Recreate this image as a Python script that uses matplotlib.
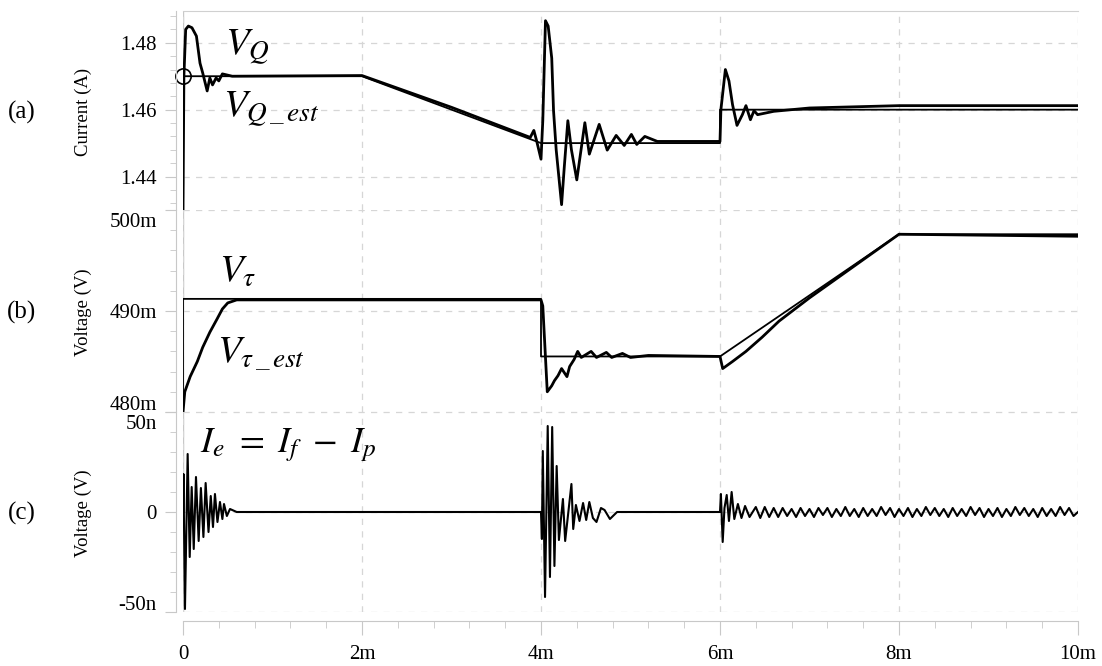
import matplotlib.pyplot as plt
from matplotlib.ticker import MultipleLocator
from matplotlib.transforms import ScaledTranslation

plt.rcParams['font.family'] = ['Liberation Serif', 'DejaVu Serif']
plt.rcParams['mathtext.fontset'] = 'stix'

# ---- data (time in ms) ----
# (a) current, reference step/ramp and measured response
t_a_ref = [0.0, 0.0, 2.0, 4.0, 6.0, 6.0, 10.0]
i_a_ref = [1.430, 1.470, 1.470, 1.450, 1.450, 1.460, 1.460]

t_a = [0.0, 0.01, 0.03, 0.06, 0.10, 0.15, 0.19, 0.22, 0.27, 0.30, 0.33, 0.37,
       0.40, 0.44, 0.55, 2.0, 3.0, 3.88, 3.92, 3.95, 4.00, 4.02, 4.05, 4.08,
       4.12, 4.14, 4.17, 4.23, 4.26, 4.30, 4.34, 4.40, 4.49, 4.54, 4.65, 4.74,
       4.84, 4.93, 5.01, 5.07, 5.16, 5.30, 6.0, 6.01, 6.06, 6.10, 6.14, 6.19,
       6.25, 6.29, 6.34, 6.38, 6.42, 6.60, 7.0, 8.0, 10.0]
i_a = [1.430, 1.470, 1.484, 1.485, 1.4845, 1.482, 1.4739, 1.471, 1.4656, 1.4695,
       1.4674, 1.4695, 1.4686, 1.4707, 1.4700, 1.4702, 1.4607, 1.4517, 1.4538,
       1.4508, 1.4452, 1.4567, 1.4866, 1.4850, 1.4754, 1.4597, 1.4479, 1.4316,
       1.4428, 1.4567, 1.4480, 1.4390, 1.4561, 1.4467, 1.4556, 1.4479, 1.4523,
       1.4493, 1.4526, 1.4496, 1.4520, 1.4505, 1.4505, 1.4600, 1.4720, 1.4686,
       1.4615, 1.4553, 1.4585, 1.4612, 1.4570, 1.4597, 1.4585, 1.4595, 1.4605,
       1.4612, 1.4612]

# (b) voltage in mV, reference and estimate
t_b_ref = [0.0, 0.0, 4.0, 4.0, 6.0, 8.0, 10.0]
v_b_ref = [480.0, 491.2, 491.2, 485.5, 485.5, 497.6, 497.6]

t_b = [0.0, 0.02, 0.08, 0.16, 0.22, 0.30, 0.38, 0.44, 0.50, 0.60, 4.0, 4.02,
       4.07, 4.12, 4.15, 4.19, 4.23, 4.29, 4.32, 4.37, 4.41, 4.45, 4.56, 4.62,
       4.73, 4.79, 4.91, 5.0, 5.2, 6.0, 6.03, 6.14, 6.29, 6.47, 6.66, 7.0, 8.0,
       10.0]
v_b = [480.0, 482.0, 483.5, 485.0, 486.4, 487.9, 489.2, 490.2, 490.8, 491.1,
       491.1, 490.5, 482.0, 482.6, 483.1, 483.6, 484.3, 483.5, 484.5, 485.2,
       486.0, 485.4, 486.0, 485.4, 485.9, 485.4, 485.8, 485.4, 485.6, 485.5,
       484.3, 485.0, 486.0, 487.4, 489.0, 491.3, 497.6, 497.4]

# (c) error signal in nV: transients at 0, 4m and 6m
t_c = [0.0, 0.005, 0.022, 0.052, 0.075, 0.097, 0.12, 0.145, 0.175, 0.20, 0.228,
       0.253, 0.285, 0.31, 0.335, 0.357, 0.385, 0.413, 0.44, 0.458, 0.49, 0.525,
       0.6, 3.98, 4.00, 4.01, 4.02, 4.045, 4.075, 4.10, 4.125, 4.15, 4.175,
       4.20, 4.245, 4.27, 4.34, 4.36, 4.39, 4.43, 4.47, 4.505, 4.54, 4.58,
       4.62, 4.67, 4.71, 4.77, 4.85, 6.0, 6.01, 6.03, 6.05, 6.075, 6.10, 6.13,
       6.16, 6.20, 6.24, 6.28, 6.33]
e_c = [0.0, 19.0, -48.5, 29.0, -22.5, 12.5, -18.5, 17.5, -14.5, 12.0, -12.5,
       14.5, -10.0, 8.0, -7.5, 9.0, -5.0, 5.0, -3.5, 4.0, -2.0, 1.5, 0.0, 0.0,
       0.0, -13.5, 30.5, -42.5, 43.0, -32.5, 42.5, -27.0, 23.0, -14.0, 6.5,
       -14.5, 14.0, -8.5, 3.5, -4.5, 4.5, -4.0, 5.0, -3.0, -5.0, 2.0, 1.0,
       -3.5, 0.0, 0.0, 9.0, -15.0, 2.0, 8.5, -4.5, 10.0, -3.5, 4.0, -3.0,
       3.0, -2.5]
# ripple that stays after the 6m step
t_c_tail = [6.40, 6.45, 6.50, 6.55, 6.60, 6.65, 6.70, 6.75, 6.80, 6.85,
            6.90, 6.95, 7.00, 7.05, 7.10, 7.15, 7.20, 7.25, 7.30, 7.35,
            7.40, 7.45, 7.50, 7.55, 7.60, 7.65, 7.70, 7.75, 7.80, 7.85,
            7.90, 7.95, 8.00, 8.05, 8.10, 8.15, 8.20, 8.25, 8.30, 8.35,
            8.40, 8.45, 8.50, 8.55, 8.60, 8.65, 8.70, 8.75, 8.80, 8.85,
            8.90, 8.95, 9.00, 9.05, 9.10, 9.15, 9.20, 9.25, 9.30, 9.35,
            9.40, 9.45, 9.50, 9.55, 9.60, 9.65, 9.70, 9.75, 9.80, 9.85,
            9.90, 9.95, 10.00]
e_c_tail = [2.5, -3.0, 2.5, -2.5, 2.0, -2.5, 2.0, -2.0, 1.5, -2.5,
            2.0, -2.0, 1.5, -2.5, 2.0, -1.5, 2.0, -2.5, 1.5, -2.0,
            2.5, -2.0, 1.5, -2.5, 2.0, -2.0, 1.5, -2.0, 2.5, -1.5,
            2.0, -2.5, 1.5, -2.0, 2.0, -2.5, 1.5, -2.0, 2.5, -1.5,
            2.0, -2.0, 1.5, -2.5, 2.0, -2.0, 1.5, -2.0, 2.5, -1.5,
            2.0, -2.5, 1.5, -2.0, 2.0, -2.5, 1.5, -2.0, 2.5, -1.5,
            2.0, -2.0, 1.5, -2.5, 2.0, -2.0, 1.5, -2.0, 2.5, -1.5,
            2.0, -2.0, 0.0]

# ---- figure layout (pixel boxes of the reference) ----
W, H = 1102, 666
fig = plt.figure(figsize=(W / 100, H / 100), dpi=100)


def box(top, bottom):
    return [183 / W, (H - bottom) / H, (1078 - 183) / W, (bottom - top) / H]


ax_a = fig.add_axes(box(11, 210))
ax_b = fig.add_axes(box(210, 412))
ax_c = fig.add_axes(box(412, 612))

grey = '#c8c8c8'
for ax in (ax_a, ax_b, ax_c):
    ax.set_xlim(0, 10)
    ax.xaxis.set_major_locator(MultipleLocator(2))
    ax.xaxis.set_minor_locator(MultipleLocator(0.4))
    ax.grid(True, which='major', color='#d6d6d6', linestyle=(0, (5, 5)), linewidth=0.9)
    ax.set_axisbelow(True)
    for s in ('top', 'right', 'bottom'):
        ax.spines[s].set_visible(False)
    ax.spines['left'].set_position(('outward', 5))
    ax.spines['left'].set_color(grey)
    ax.tick_params(axis='y', which='major', length=8, color=grey, labelsize=15, pad=6)
    ax.tick_params(axis='y', which='minor', length=4.5, color=grey)
    ax.axvline(0, color=grey, lw=1, zorder=0)

for ax in (ax_a, ax_b):
    ax.tick_params(axis='x', which='both', bottom=False, labelbottom=False)

ax_a.spines['top'].set_visible(True)
ax_a.spines['top'].set_color('#d0d0d0')

ax_c.spines['bottom'].set_visible(True)
ax_c.spines['bottom'].set_position(('outward', 6.5))
ax_c.spines['bottom'].set_color(grey)
ax_c.tick_params(axis='x', which='major', length=10, color=grey, labelsize=15, pad=7)
ax_c.tick_params(axis='x', which='minor', length=5, color=grey)
ax_c.set_xticks([0, 2, 4, 6, 8, 10], labels=['0', '2m', '4m', '6m', '8m', '10m'])

# (a)
ax_a.plot(t_a_ref, i_a_ref, color='black', lw=1.3)
ax_a.plot(t_a, i_a, color='black', lw=2.0)
ax_a.plot([0], [1.47], marker='o', ms=11, mfc='none', mec='black', mew=1.2, clip_on=False)
ax_a.set_ylim(1.430, 1.4895)
ax_a.set_yticks([1.44, 1.46, 1.48], labels=['1.44', '1.46', '1.48'])
ax_a.yaxis.set_minor_locator(MultipleLocator(0.004))
ax_a.text(0.47, 1.4765, r'$V_Q$', fontsize=28)
ax_a.text(0.45, 1.4582, r'$V_{Q\,\_\,est}$', fontsize=28)

# (b)
ax_b.plot(t_b_ref, v_b_ref, color='black', lw=1.3)
ax_b.plot(t_b, v_b, color='black', lw=2.0)
ax_b.set_ylim(480, 500)
ax_b.set_yticks([480, 490, 500], labels=['480m', '490m', '500m'])
ax_b.yaxis.set_minor_locator(MultipleLocator(2))
ax_b.text(0.40, 492.9, r'$V_\tau$', fontsize=28)
ax_b.text(0.38, 484.95, r'$V_{\tau\,\_\,est}$', fontsize=28)

# (c)
ax_c.plot(t_c + t_c_tail, e_c + e_c_tail, color='black', lw=1.5)
ax_c.set_ylim(-50, 50)
ax_c.set_yticks([-50, 0, 50], labels=['-50n', '0', '50n'])
ax_c.yaxis.set_minor_locator(MultipleLocator(10))
ax_c.text(0.19, 30, r'$I_e\ =\ I_f\ -\ I_p$', fontsize=26)

# labels at the ends of each panel sit inside the panel, as in the reference
for ax in (ax_b, ax_c):
    ticks = ax.yaxis.get_major_ticks()
    low, high = ticks[0].label1, ticks[2].label1
    low.set_verticalalignment('baseline')
    low.set_transform(low.get_transform() + ScaledTranslation(0, 2 / 100, fig.dpi_scale_trans))
    high.set_verticalalignment('top')
    high.set_transform(high.get_transform() + ScaledTranslation(0, -3 / 100, fig.dpi_scale_trans))

# panel letters and axis titles
for y_px, letter, title in [(112, '(a)', 'Current (A)'),
                            (312, '(b)', 'Voltage (V)'),
                            (513, '(c)', 'Voltage (V)')]:
    fig.text(22 / W, 1 - y_px / H, letter, ha='center', va='center', fontsize=18)
    fig.text(83 / W, 1 - y_px / H, title, ha='center', va='center', rotation=90, fontsize=13.5)

fig.savefig('out.png', dpi=100)
